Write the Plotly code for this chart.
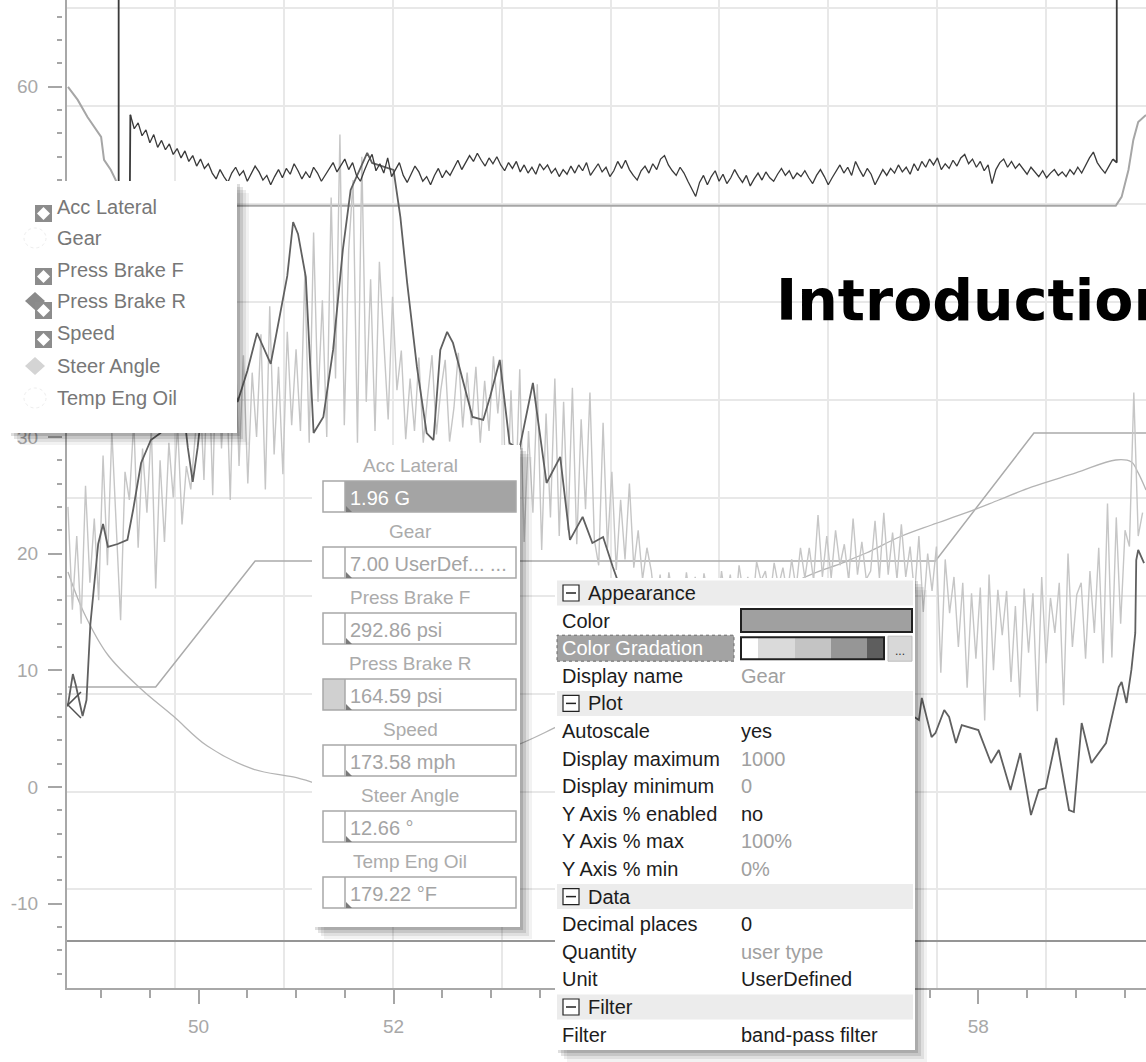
import plotly.graph_objects as go

W, H = 1146, 1062

# ---------------- data ----------------
x_range = [48.65, 59.72]
y_range = [-17.22, 67.43]
x_tick_vals = [50, 52, 54, 56, 58]
x_tick_labels = ["50", "52", "", "", "58"]   # 54 and 56 sit behind the property panel
y_tick_vals = [-10, 0, 10, 20, 30, 40, 50, 60]
y_tick_labels = ["-10", "0", "10", "20", "30", "40", "50", "60"]

# dark noisy trace (top band)
speed_x0 = 49.30
speed_dx = 0.04
speed_vals = [
    57.6, 56.4, 56.9, 55.8, 56.3, 55.2, 55.9, 54.8, 55.4, 54.6,
    55.1, 54.2, 54.7, 53.9, 54.5, 53.6, 54.1, 53.2, 53.8, 53.0,
    53.4, 52.6, 52.1, 52.9, 52.3, 51.8, 52.6, 53.1, 52.4, 52.8, 51.9, 52.5, 53.2, 52.7, 52.0, 52.4, 51.6, 52.3,
    52.9, 52.2, 53.0, 52.5, 53.4, 52.8, 52.1, 52.7, 52.2, 53.1, 52.6, 51.9, 52.4, 53.0, 53.5, 52.7, 53.2,
    53.8, 52.9, 53.5, 52.4, 51.9, 52.8, 53.6, 54.2, 52.8, 53.4, 52.6, 53.9, 52.3, 52.9, 53.5, 52.4, 51.8, 52.5,
    53.2, 52.7, 51.9, 52.3, 51.6, 52.4, 53.0, 52.2, 52.8, 52.4,
    53.1, 53.7, 52.9, 53.5, 54.1, 53.6, 54.3, 53.7, 53.2, 53.9, 53.4, 54.0, 53.3, 52.8, 53.5, 53.0, 53.6, 52.7,
    53.3, 52.6, 53.1, 52.5, 53.4, 52.9, 53.3, 52.6, 53.0, 52.3, 52.9, 52.5,
    53.2, 52.6, 53.3, 52.8, 53.5, 52.4, 52.9, 53.4, 52.7, 53.1, 52.3, 52.8, 53.6, 53.0, 53.7, 52.9, 52.4, 52.0,
    52.8, 53.2, 52.6, 53.4, 52.9, 53.8, 54.1, 53.3, 52.8, 52.4, 53.1, 52.6,
    51.9, 51.2, 50.6, 51.8, 52.4, 51.6, 52.3, 52.8, 51.9, 52.5, 51.7, 52.2, 52.9, 52.3, 51.8, 52.4, 51.5, 52.1,
    52.6, 52.0, 52.7, 52.2, 51.9, 52.5, 53.0, 52.4, 52.8, 52.1, 52.6, 52.3,
    52.8, 52.2, 51.7, 52.4, 52.9, 52.3, 51.6, 52.2, 52.8, 53.3, 52.6, 53.1, 52.4, 53.6, 52.9, 52.3, 53.0, 52.5,
    51.6, 52.3, 52.9, 52.4, 53.0, 52.6, 53.3, 52.7, 53.1, 52.5, 53.4, 52.8,
    53.6, 53.1, 53.8, 53.3, 53.9, 52.9, 53.4, 53.0, 53.7, 53.2, 53.9, 54.2, 53.4, 53.8, 53.1, 53.6, 52.8, 53.3,
    51.7, 52.9, 53.5, 53.8, 53.1, 53.6, 53.0, 53.4, 52.9, 52.5, 53.1, 52.7,
    52.3, 52.8, 52.2, 52.6, 52.9, 52.4, 52.7, 52.3, 52.9, 52.5, 53.1, 52.6, 53.3, 53.9, 54.4, 53.5, 53.0, 52.6,
    53.2, 53.8,
]
speed_lead_x = [49.18, 49.18, 49.29, 49.30]
speed_lead_y = [70.0, 45.0, 45.0, 57.6]
speed_tail_x = [59.38, 59.42, 59.42]
speed_tail_y = [53.8, 53.5, 70.0]

# light spiky trace
spiky_x0 = 48.66
spiky_dx = 0.045
spiky_vals = [
    24.0, 15.2, 21.5, 14.0, 25.8, 17.5, 23.0, 16.0,
    28.4, 19.0, 30.5, 22.0, 14.3, 27.0, 24.6, 31.4, 20.5, 29.0, 23.5, 30.8, 17.0, 28.0, 21.0, 29.5, 24.8, 31.0,
    22.5, 27.5, 25.5, 30.0,
    34.9, 26.3, 38.0, 25.0, 40.9, 29.0, 36.5, 24.6, 39.5, 27.5, 37.0, 26.0, 35.5, 30.0, 38.8, 25.5, 41.2, 28.5,
    36.0, 26.8, 39.0, 31.0, 37.5,
    30.5, 44.0, 29.5, 47.5, 33.0, 41.7, 30.0, 50.5, 35.0, 55.9, 31.0, 46.0, 52.0, 29.5, 54.0, 33.0, 43.5, 30.5,
    45.0, 38.0, 31.5, 42.0, 34.0,
    37.4, 29.8, 35.0, 30.5, 36.8, 29.5, 33.5, 37.0, 30.2, 34.0, 36.6, 29.6, 32.5, 37.2, 30.8, 35.5, 31.0, 36.0,
    29.5, 34.8, 30.5, 36.9, 32.0,
    36.6, 22.5, 34.0, 24.0, 35.8, 21.0, 30.5, 23.5, 34.5, 20.3, 32.0, 23.1, 35.0, 21.5, 33.0, 22.0, 34.2, 20.8,
    31.5, 23.8, 33.8, 21.2,
    19.0, 31.2, 20.5, 27.0, 18.6, 24.6, 19.5, 26.0, 18.8, 22.0, 17.8, 20.5,
    18.5, 15.0, 18.2, 14.3, 18.4, 16.0, 17.5, 14.8, 18.4, 15.5, 18.0, 14.3, 18.3, 16.2, 17.8, 14.9, 18.5, 15.8,
    18.2, 14.6, 19.0, 16.5, 18.0, 15.2, 19.3, 17.7, 18.5, 16.0, 19.2, 17.2, 18.8, 16.5, 19.5, 17.0, 20.5, 17.9,
    20.5, 17.7, 23.3, 18.0, 21.5, 17.9, 22.0, 19.0, 20.8, 17.7, 23.0, 18.2, 21.0, 17.8,
    18.5, 22.8, 17.9, 23.5, 18.2, 21.8, 17.8, 22.5, 18.0, 20.6, 16.5, 21.5, 15.0, 20.0, 16.8,
    20.6, 9.8, 19.5, 14.9, 18.0, 12.0, 17.5, 8.5, 16.6, 11.0, 17.1, 5.7, 18.2, 10.0, 16.9, 13.0,
    16.8, 9.0, 15.5, 7.7, 17.0, 11.5, 16.6, 6.5, 18.0, 10.6, 16.2, 13.2, 17.5, 7.0, 20.0, 12.0, 16.5,
    17.5, 11.0, 18.5, 13.2, 20.5, 10.6, 24.3, 11.1, 23.1, 14.0, 22.0, 20.6, 33.8, 21.5, 23.5,
]

# dark wiggly trace
acc_x = [48.66, 48.71, 48.74, 48.81, 48.85, 48.89, 48.97, 49.02, 49.07, 49.17, 49.27, 49.33, 49.41, 49.51,
         49.61, 49.68, 49.82, 49.89, 49.94, 49.99, 50.05, 50.19, 50.30, 50.40, 50.50, 50.60, 50.74, 50.84,
         50.91, 50.97, 51.02, 51.10, 51.18, 51.28, 51.38, 51.48, 51.56, 51.73, 51.78, 52.00, 52.07, 52.14,
         52.24, 52.34, 52.41, 52.48, 52.55, 52.61, 52.71, 52.81, 52.92, 52.99, 53.09, 53.19, 53.29, 53.43,
         53.57, 53.71, 53.81, 53.94, 54.04, 54.15, 54.25, 54.37, 55.14, 56.16, 56.98, 57.31, 57.39, 57.42,
         57.52, 57.56, 57.65, 57.70, 57.77, 57.83, 58.00, 58.13, 58.21, 58.33, 58.43, 58.54, 58.62, 58.69,
         58.80, 58.93, 58.98, 59.06, 59.16, 59.31, 59.44, 59.47, 59.52, 59.57, 59.61, 59.62, 59.64, 59.70]
acc_y = [7.03, 9.68, 8.74, 6.08, 7.45, 13.97, 20.82, 22.54, 20.57, 20.82, 21.17, 23.82, 27.76, 29.73,
         30.33, 33.68, 34.28, 29.05, 26.14, 29.05, 33.68, 33.68, 36.25, 32.99, 35.65, 38.90, 36.25, 40.53,
         43.79, 48.41, 47.39, 43.70, 30.33, 31.71, 37.45, 46.02, 51.16, 54.33, 53.47, 52.87, 48.84, 43.19,
         35.99, 30.33, 29.73, 37.45, 38.99, 38.05, 34.88, 31.71, 31.45, 33.42, 36.59, 29.48, 28.88, 34.62,
         26.05, 28.28, 21.17, 23.14, 20.91, 21.42, 18.85, 16.02, 9.17, 7.45, 8.31, 6.17, 5.74, 7.63,
         4.28, 4.63, 6.60, 6.00, 3.77, 5.31, 4.88, 2.06, 3.17, -0.26, 2.91, -2.40, -0.26, -0.09,
         4.20, -1.97, -2.14, 5.48, 2.06, 3.77, 8.57, 9.00, 7.20, 10.03, 13.20, 19.45, 20.31, 19.19]

# stepped trace
gear_x = [48.66, 49.56, 50.58, 57.56, 58.57, 59.72]
gear_y = [8.57, 8.57, 19.37, 19.37, 30.33, 30.33]

# smooth U-shaped trace
temp_x = [48.66, 48.82, 49.07, 49.41, 49.74, 50.09, 50.56, 50.97, 51.56, 52.37, 53.27, 53.65, 54.63,
          56.16, 56.60, 56.85, 57.19, 57.52, 57.87, 58.21, 58.55, 59.00, 59.41, 59.57, 59.64, 59.72]
temp_y = [18.42, 15.00, 11.31, 8.40, 6.08, 3.51, 1.54, 0.86, -0.26, 1.03, 3.60, 5.06, 9.17,
          17.74, 19.19, 20.05, 21.42, 22.45, 23.48, 24.59, 25.71, 26.91, 28.02, 27.85, 26.91, 25.45]

# falling-then-flat trace
brake_x = [48.66, 48.76, 48.86, 49.00, 49.03, 49.10, 49.15, 49.22, 59.41, 59.47, 59.54, 59.59, 59.64, 59.72]
brake_y = [59.98, 58.87, 57.41, 55.70, 53.73, 52.87, 52.01, 49.80, 49.80, 50.56, 52.87, 55.44, 56.98, 57.58]

# flat bottom trace
flat_x = [48.65, 59.72]
flat_y = [-13.2, -13.2]

legend_names = ["Acc Lateral", "Gear", "Press Brake F", "Press Brake R", "Speed", "Steer Angle", "Temp Eng Oil"]
value_texts = ["1.96 G", "7.00 UserDef... ...", "292.86 psi", "164.59 psi", "173.58 mph", "12.66 °", "179.22 °F"]

GRAY_V = "#a0a0a0"
BLACK = "#1c1c1c"
panel_rows = [
    ("header", "Appearance", None, None),
    ("prop", "Color", None, None),
    ("prop", "Color Gradation", None, None),
    ("prop", "Display name", "Gear", GRAY_V),
    ("header", "Plot", None, None),
    ("prop", "Autoscale", "yes", BLACK),
    ("prop", "Display maximum", "1000", GRAY_V),
    ("prop", "Display minimum", "0", GRAY_V),
    ("prop", "Y Axis % enabled", "no", BLACK),
    ("prop", "Y Axis % max", "100%", GRAY_V),
    ("prop", "Y Axis % min", "0%", GRAY_V),
    ("header", "Data", None, None),
    ("prop", "Decimal places", "0", BLACK),
    ("prop", "Quantity", "user type", GRAY_V),
    ("prop", "Unit", "UserDefined", BLACK),
    ("header", "Filter", None, None),
    ("prop", "Filter", "band-pass filter", BLACK),
]
gradient_colors = ["#ffffff", "#dadada", "#c4c4c4", "#969696", "#5e5e5e"]

# ---------------- helpers (layout positions in pixels -> paper) ----------------
def PX(x):
    return x / W

def PY(y):
    return 1 - y / H

shapes = []
annotations = []

def rect(x0, y0, x1, y1, fill="rgba(0,0,0,0)", line="rgba(0,0,0,0)", lw=0, dash=None):
    ln = dict(color=line, width=lw)
    if dash:
        ln["dash"] = dash
    shapes.append(dict(type="rect", xref="paper", yref="paper", layer="above",
                       x0=PX(x0), x1=PX(x1), y0=PY(y1), y1=PY(y0),
                       fillcolor=fill, line=ln))

def seg(x0, y0, x1, y1, color, lw=1):
    shapes.append(dict(type="line", xref="paper", yref="paper", layer="above",
                       x0=PX(x0), x1=PX(x1), y0=PY(y0), y1=PY(y1),
                       line=dict(color=color, width=lw)))

def poly(pts, fill, line="rgba(0,0,0,0)", lw=0):
    path = "M " + " L ".join(f"{PX(a):.5f},{PY(b):.5f}" for a, b in pts) + " Z"
    shapes.append(dict(type="path", xref="paper", yref="paper", layer="above", path=path,
                       fillcolor=fill, line=dict(color=line, width=lw)))

def circ(x0, y0, x1, y1, line, lw=1):
    shapes.append(dict(type="circle", xref="paper", yref="paper", layer="above",
                       x0=PX(x0), x1=PX(x1), y0=PY(y1), y1=PY(y0),
                       line=dict(color=line, width=lw, dash="dot")))

def txt(s, x, y, size=20, color="#000", anchor="left", family="Liberation Sans"):
    annotations.append(dict(text=s, xref="paper", yref="paper", x=PX(x), y=PY(y),
                            xanchor=anchor, yanchor="middle", showarrow=False,
                            font=dict(family=family, size=size, color=color)))

def shadow(x0, y0, x1, y1):
    for k, a in [(3, 0.13), (6, 0.11), (9, 0.08), (12, 0.05)]:
        rect(x0 + k, y0 + k, x1 + k, y1 + k, fill=f"rgba(0,0,0,{a})")

# ---------------- figure ----------------
fig = go.Figure()

fig.add_trace(go.Scatter(x=flat_x, y=flat_y, mode="lines", line=dict(color="#959595", width=2)))
fig.add_trace(go.Scatter(x=gear_x, y=gear_y, mode="lines", line=dict(color="#ababab", width=1.5)))
fig.add_trace(go.Scatter(x=temp_x, y=temp_y, mode="lines", line=dict(color="#b4b4b4", width=1.3, shape="spline")))
fig.add_trace(go.Scatter(x=brake_x, y=brake_y, mode="lines", line=dict(color="#a6a6a6", width=2)))
fig.add_trace(go.Scatter(x0=spiky_x0, dx=spiky_dx, y=spiky_vals, mode="lines", line=dict(color="#c6c6c6", width=1.4)))
fig.add_trace(go.Scatter(x=acc_x, y=acc_y, mode="lines", line=dict(color="#606060", width=1.8)))
fig.add_trace(go.Scatter(x0=speed_x0, dx=speed_dx, y=speed_vals, mode="lines", line=dict(color="#3a3a3a", width=1.3)))
fig.add_trace(go.Scatter(x=speed_lead_x, y=speed_lead_y, mode="lines", line=dict(color="#3a3a3a", width=1.8)))
fig.add_trace(go.Scatter(x=speed_tail_x, y=speed_tail_y, mode="lines", line=dict(color="#3a3a3a", width=1.8)))
fig.add_trace(go.Scatter(x=acc_x[:1], y=acc_y[:1], mode="markers",
                         marker=dict(symbol="x-thin", size=26, line=dict(color="#505050", width=1.5))))
# grid overlay carrier (invisible)
fig.add_trace(go.Scatter(x=[x_range[0]], y=[y_range[0]], xaxis="x2", yaxis="y2", mode="markers",
                         marker=dict(size=1, color="rgba(0,0,0,0)"), hoverinfo="skip"))

TICK_C = "#a6a6a6"
TICK_F = dict(family="Liberation Sans", size=19, color="#a8a8a8")
x_dom = [67 / W, 1]
y_dom = [1 - 988 / H, 1]

fig.update_layout(
    width=W, height=H, margin=dict(l=0, r=0, t=0, b=0),
    paper_bgcolor="white", plot_bgcolor="white", showlegend=False,
    xaxis=dict(domain=x_dom, range=x_range, tickvals=x_tick_vals, ticktext=x_tick_labels,
               showgrid=False, zeroline=False, showline=True, linecolor="#a8a8a8", linewidth=2,
               ticks="outside", ticklen=14, tickwidth=1.5, tickcolor=TICK_C, tickfont=TICK_F,
               ticklabelstandoff=6,
               minor=dict(dtick=0.5, tick0=50, ticks="outside", ticklen=8, tickwidth=1.5,
                          tickcolor=TICK_C, showgrid=False),
               anchor="y"),
    yaxis=dict(domain=y_dom, range=y_range, tickvals=y_tick_vals, ticktext=y_tick_labels,
               showgrid=False, zeroline=False, showline=False,
               ticks="outside", ticklen=14, tickwidth=1.5, tickcolor=TICK_C, tickfont=TICK_F,
               ticklabelstandoff=6,
               minor=dict(dtick=2, tick0=0, ticks="outside", ticklen=5, tickwidth=1.5,
                          tickcolor=TICK_C, showgrid=False),
               anchor="free", position=62 / W),
    xaxis2=dict(overlaying="x", range=x_range, tick0=49.759, dtick=1.1169, showgrid=True,
                gridcolor="#e8e8e8", gridwidth=1.5, showticklabels=False, ticks="",
                zeroline=False, showline=False, anchor="y2"),
    yaxis2=dict(overlaying="y", range=y_range, tick0=41.556, dtick=8.388, showgrid=True,
                gridcolor="#e8e8e8", gridwidth=1.5, showticklabels=False, ticks="",
                zeroline=False, showline=True, linecolor="#a8a8a8", linewidth=2,
                anchor="x2", side="left"),
)

# ---------- title ----------
txt("<b>Introduction</b>", 774, 300, size=57, color="#000000", family="DejaVu Sans")

# ---------- legend popup ----------
LX0, LY0, LX1, LY1 = 8, 181, 237, 433
shadow(LX0, LY0, LX1, LY1)
rect(LX0, LY0, LX1, LY1, fill="white")
row_y = [207, 238, 270, 301, 333, 366, 398]
for name, yc in zip(legend_names, row_y):
    txt(name, 55, yc, size=20, color="#777777")
for i in [0, 2, 3, 4]:
    yc = row_y[i] + 6
    if i == 3:
        poly([(35, yc - 15), (45, yc - 6), (35, yc + 3), (25, yc - 6)], fill="#8a8a8a")
        yc += 3
    rect(35, yc - 8, 52, yc + 9, fill="#8c8c8c")
    poly([(43.5, yc - 6), (50, yc + 0.5), (43.5, yc + 7), (37, yc + 0.5)], fill="white")
poly([(35, row_y[5] - 9), (45, row_y[5]), (35, row_y[5] + 9), (25, row_y[5])], fill="#d4d4d4")
circ(24, row_y[1] - 10, 46, row_y[1] + 10, line="#ededed")
circ(24, row_y[6] - 10, 46, row_y[6] + 10, line="#ededed")

# ---------- value popup ----------
VX0, VY0, VX1, VY1 = 312, 445, 520, 927
shadow(VX0, VY0, VX1, VY1)
rect(VX0, VY0, VX1, VY1, fill="white")
for i, (name, val) in enumerate(zip(legend_names, value_texts)):
    ly = 465 + 66 * i
    fy0 = 481 + 66 * i
    fy1 = fy0 + 31
    txt(name, 410, ly, size=19, color="#ababab", anchor="center")
    if i == 0:
        rect(345, fy0, 516, fy1, fill="#a4a4a4")
    if i == 3:
        rect(323, fy0, 345, fy1, fill="#d0d0d0")
    rect(323, fy0, 516, fy1, line="#a8a8a8", lw=1.5)
    seg(345, fy0, 345, fy1, "#a8a8a8", 1.5)
    poly([(346, fy1 - 6), (352, fy1), (346, fy1)], fill="#7a7a7a")
    txt(val, 348, (fy0 + fy1) / 2 + 1, size=20, color="white" if i == 0 else "#a4a4a4")

# ---------- property panel ----------
QX0, QY0, QX1, QY1 = 555, 578, 915, 1050
shadow(QX0, QY0, QX1, QY1)
rect(QX0, QY0, QX1, QY1, fill="white")
for k, (kind, name, val, vcol) in enumerate(panel_rows):
    yc = 593 + 27.6 * k
    if kind == "header":
        rect(557, yc - 12.5, 913, yc + 12.5, fill="#ececec")
        rect(563, yc - 8, 579, yc + 8, fill="white", line="#222222", lw=1.2)
        seg(566, yc, 576, yc, "#222222", 1.5)
        txt(name, 586, yc, size=20, color=BLACK)
    else:
        if name == "Color Gradation":
            rect(557, yc - 13, 734, yc + 13, fill="#a3a3a3", line="#6a6a6a", lw=1, dash="dot")
            txt(name, 560, yc, size=20, color="white")
            xs = [741, 758, 795, 831, 867, 884]
            for j, c in enumerate(gradient_colors):
                rect(xs[j], yc - 11, xs[j + 1], yc + 11, fill=c)
            rect(741, yc - 11, 884, yc + 11, line="#202020", lw=2)
            rect(888, yc - 12, 912, yc + 13, fill="#d8d8d8", line="#bdbdbd", lw=1)
            txt("...", 900, yc + 3, size=12, color="#333333", anchor="center")
        else:
            txt(name, 560, yc, size=20, color=BLACK)
        if name == "Color":
            rect(741, yc - 11.5, 912, yc + 11.5, fill="#a0a0a0", line="#202020", lw=2)
        if val is not None:
            txt(val, 739, yc, size=20, color=vcol)

fig.update_layout(shapes=shapes, annotations=annotations)

fig.write_html("out.html", config={"displayModeBar": False},
               post_script="document.body.style.margin='0';document.body.style.overflow='hidden';")
